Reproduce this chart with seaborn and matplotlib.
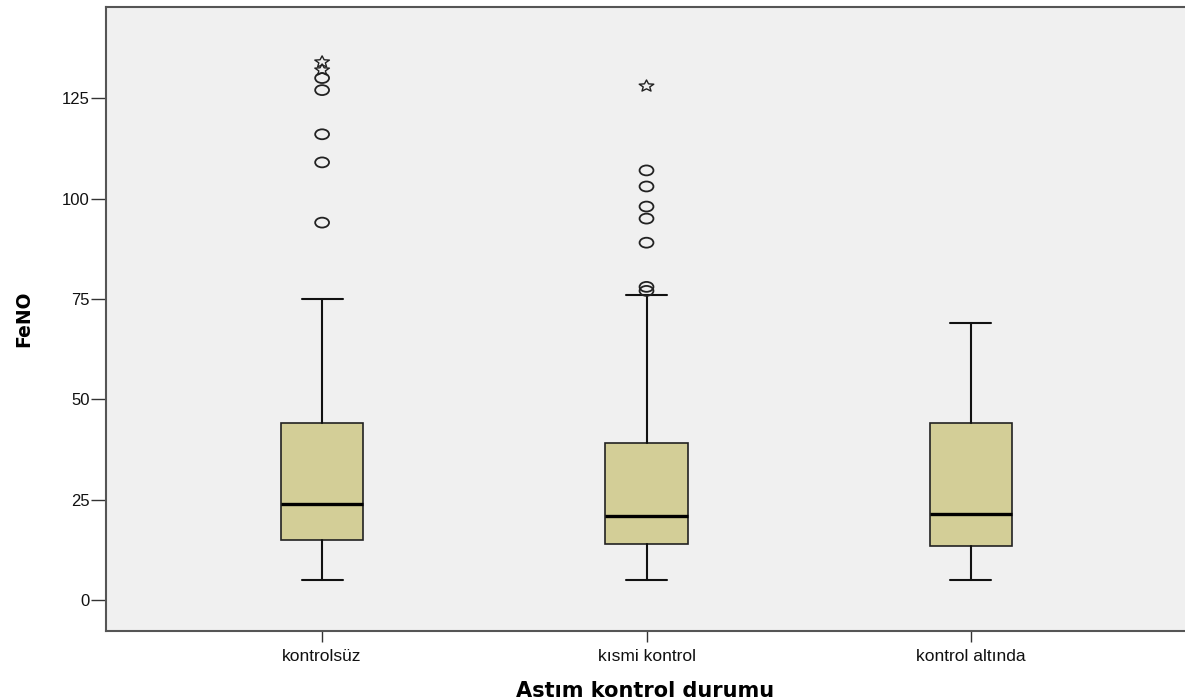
import matplotlib
matplotlib.use("Agg")
import matplotlib.pyplot as plt
import seaborn as sns
from matplotlib.path import Path
from matplotlib.transforms import Affine2D

# group names and five-number summaries
groups = ["kontrolsüz", "kısmi kontrol", "kontrol altında"]
whisker_low = [5, 5, 5]
q1 = [15, 14, 13.5]
median = [24, 21, 21.5]
q3 = [44, 39, 44]
whisker_high = [75, 76, 69]

# outliers (circles) and extremes (stars) per group index
outlier_group = [0, 0, 0, 0, 0, 1, 1, 1, 1, 1, 1, 1]
outlier_value = [130, 127, 116, 109, 94, 107, 103, 98, 95, 89, 78, 77]
extreme_group = [0, 0, 1]
extreme_value = [134, 132, 128]

yticks = [0, 25, 50, 75, 100, 125]

sns.set_theme(style="white")
plt.rcParams["font.family"] = ["Liberation Sans", "DejaVu Sans"]

# SPSS output is stretched sideways, so the markers are wide too
wide = Affine2D().scale(1.4, 1.0)
ellipse = wide.transform_path(Path.unit_circle())
star = Affine2D().scale(1.25, 1.0).transform_path(Path.unit_regular_star(5, 0.45))

fig = plt.figure(figsize=(11.85, 6.99), dpi=100)
ax = fig.add_axes([0.0895, 0.0973, 0.9105, 0.8927])
ax.set_facecolor("#F0F0F0")

stats = []
for i, g in enumerate(groups):
    stats.append(dict(label=g, whislo=whisker_low[i], q1=q1[i], med=median[i],
                      q3=q3[i], whishi=whisker_high[i], fliers=[]))

ax.bxp(stats, positions=range(len(groups)), widths=0.253, capwidths=0.126,
       showfliers=False, patch_artist=True,
       boxprops=dict(facecolor="#D3CE97", edgecolor="#222222", linewidth=1.2),
       medianprops=dict(color="black", linewidth=2.4),
       whiskerprops=dict(color="#111111", linewidth=1.5),
       capprops=dict(color="#111111", linewidth=1.5))

ax.scatter(outlier_group, outlier_value, marker=ellipse, s=100, facecolors="none",
           edgecolors="#222222", linewidths=1.3, zorder=3)
ax.scatter(extreme_group, extreme_value, marker=star, s=110, facecolors="none",
           edgecolors="#222222", linewidths=1.0, zorder=3)

ax.set_xlim(-0.666, 2.66)
ax.set_ylim(-7.7, 147.7)
ax.set_yticks(yticks)
ax.set_xticks(range(len(groups)))
ax.set_xticklabels(groups, fontsize=12.5)
ax.tick_params(axis="y", direction="out", length=11, width=1, color="#333333",
               labelsize=12, labelcolor="#111111", left=True, pad=1)
ax.tick_params(axis="x", direction="out", length=8, width=1, color="#333333",
               labelcolor="#111111", bottom=True, pad=5)

for side in ["left", "bottom", "top"]:
    ax.spines[side].set_color("#555555")
    ax.spines[side].set_linewidth(1.5)
ax.spines["right"].set_visible(False)

ax.set_ylabel("FeNO", fontsize=13.5, fontweight="bold", family="DejaVu Sans",
              color="black", labelpad=20)
ax.set_xlabel("Astım kontrol durumu", fontsize=15, fontweight="bold",
              family="DejaVu Sans", color="black", labelpad=12)

fig.savefig("out.png", dpi=100)
